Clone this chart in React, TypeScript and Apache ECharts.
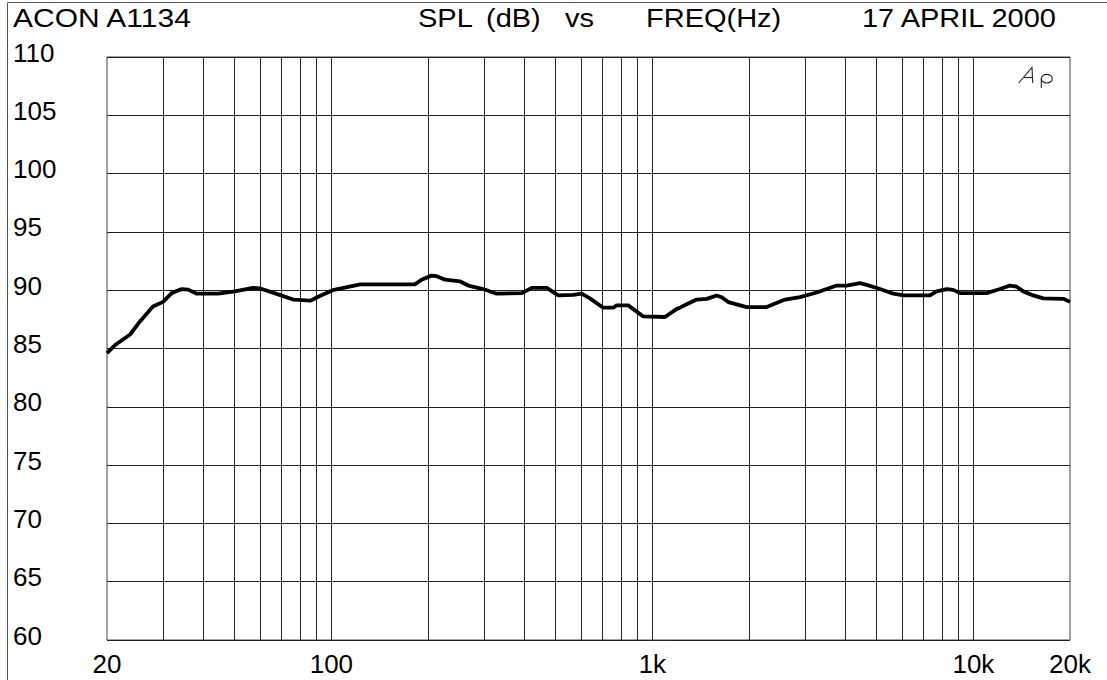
import React, { useEffect, useRef } from "react";
import * as echarts from "echarts";

const FREQ = [
  20, 21.2, 23.6, 25.3, 27.8, 29.9, 31.8, 34.2, 35.8, 38.1, 44.3, 50, 57, 60, 69, 76, 86, 92, 101,
  123, 152, 182, 191, 205, 213, 226, 252, 267, 297, 327, 392, 421, 469, 509, 567, 602, 639, 703,
  756, 774, 841, 937, 1095, 1191, 1219, 1279, 1374, 1477, 1586, 1644, 1724, 1967, 2271, 2590,
  2884, 3250, 3751, 4032, 4435, 4654, 5119, 5632, 6049, 7328, 7688, 8259, 8657, 9085, 11006,
  12104, 13005, 13646, 14307, 15372, 16514, 19060, 20000,
];
const SPL = [
  84.6, 85.3, 86.2, 87.3, 88.6, 89.0, 89.75, 90.1, 90.05, 89.7, 89.7, 89.9, 90.2, 90.15, 89.6, 89.2,
  89.1, 89.5, 90.0, 90.5, 90.5, 90.5, 90.9, 91.25, 91.2, 90.9, 90.75, 90.4, 90.1, 89.7, 89.75, 90.2,
  90.2, 89.55, 89.6, 89.7, 89.3, 88.5, 88.5, 88.7, 88.7, 87.75, 87.7, 88.4, 88.5, 88.8, 89.2, 89.26,
  89.55, 89.4, 88.98, 88.55, 88.55, 89.2, 89.4, 89.8, 90.4, 90.4, 90.6, 90.46, 90.1, 89.7, 89.55,
  89.55, 89.9, 90.1, 90.03, 89.75, 89.75, 90.1, 90.4, 90.3, 89.9, 89.55, 89.3, 89.26, 89.0,
];
const GRID_FREQS = [
  30, 40, 50, 60, 70, 80, 90, 100, 200, 300, 400, 500, 600, 700, 800, 900, 1000, 2000, 3000, 4000,
  5000, 6000, 7000, 8000, 9000, 10000,
];
const X_TICK_VALUES = [20, 100, 1000, 10000, 20000];
const X_TICK_LABELS = ["20", "100", "1k", "10k", "20k"];
const Y_MIN = 60;
const Y_MAX = 110;
const Y_STEP = 5;

const TITLE_PIECES = [
  { text: "ACON A1134", x: 13, sx: 1.2 },
  { text: "SPL", x: 418, sx: 1.16 },
  { text: "(dB)", x: 486, sx: 1.16 },
  { text: "vs", x: 565, sx: 1.16 },
  { text: "FREQ(Hz)", x: 646, sx: 1.16 },
  { text: "17 APRIL 2000", x: 862, sx: 1.16 },
];

const FONT = "'Liberation Sans', Arial, sans-serif";
const LOGO_STROKE = { stroke: "#222", lineWidth: 1.1, fill: "none" };

export default function App() {
  const ref = useRef<HTMLDivElement>(null);
  useEffect(() => {
    if (!ref.current) return;
    const chart = echarts.init(ref.current, undefined, { renderer: "svg" });
    const option: any = {
      animation: false,
      backgroundColor: "#ffffff",
      grid: {
        left: 107,
        right: 37,
        top: 57,
        bottom: 40,
        show: true,
        borderColor: "#444",
        borderWidth: 1,
      },
      xAxis: {
        type: "log",
        logBase: 10,
        min: 20,
        max: 20000,
        axisLine: { show: false },
        axisTick: { show: false },
        splitLine: { show: false },
        minorSplitLine: { show: false },
        axisLabel: {
          show: true,
          showMinLabel: true,
          showMaxLabel: true,
          fontFamily: FONT,
          fontSize: 26,
          color: "#000",
          margin: 11,
          formatter: (v: number) => {
            for (let i = 0; i < X_TICK_VALUES.length; i++) {
              if (Math.abs(v - X_TICK_VALUES[i]) / X_TICK_VALUES[i] < 0.01) return X_TICK_LABELS[i];
            }
            return "";
          },
        },
      },
      yAxis: {
        type: "value",
        min: Y_MIN,
        max: Y_MAX,
        interval: Y_STEP,
        axisLine: { show: false },
        axisTick: { show: false },
        splitLine: { show: true, lineStyle: { color: "#222", width: 1 } },
        axisLabel: {
          fontFamily: FONT,
          fontSize: 26,
          color: "#000",
          align: "left",
          verticalAlign: "bottom",
          lineHeight: 9,
          margin: 94,
        },
      },
      graphic: [
        {
          type: "rect",
          silent: true,
          shape: { x: 7.5, y: 2.5, width: 1400, height: 900 },
          style: { fill: "none", stroke: "#555", lineWidth: 1 },
        },
        ...TITLE_PIECES.map((p) => ({
          type: "text",
          x: p.x,
          y: 18,
          scaleX: p.sx,
          silent: true,
          style: {
            text: p.text,
            fontFamily: FONT,
            fontSize: 25,
            fill: "#000",
            align: "left",
            verticalAlign: "middle",
          },
        })),
        {
          type: "polyline",
          silent: true,
          shape: { points: [[1018.7, 83], [1032, 67.5], [1032.7, 83]] },
          style: LOGO_STROKE,
        },
        {
          type: "line",
          silent: true,
          shape: { x1: 1023.5, y1: 77.5, x2: 1032.5, y2: 77.5 },
          style: LOGO_STROKE,
        },
        {
          type: "ellipse",
          silent: true,
          shape: { cx: 1046.8, cy: 78.7, rx: 5.5, ry: 4.3 },
          style: LOGO_STROKE,
        },
        {
          type: "line",
          silent: true,
          shape: { x1: 1041.3, y1: 78.7, x2: 1041.3, y2: 88 },
          style: LOGO_STROKE,
        },
      ],
      series: [
        {
          type: "line",
          data: [],
          silent: true,
          z: 1,
          markLine: {
            silent: true,
            symbol: ["none", "none"],
            label: { show: false },
            lineStyle: { color: "#222", width: 1, type: "solid" },
            emphasis: { disabled: true },
            data: GRID_FREQS.map((f) => ({ xAxis: f })),
          },
        },
        {
          type: "line",
          data: FREQ.map((f, i) => [f, SPL[i]]),
          showSymbol: false,
          z: 5,
          lineStyle: { color: "#000", width: 3.8 },
          itemStyle: { color: "#000" },
        },
      ],
    };
    chart.setOption(option);
    return () => chart.dispose();
  }, []);
  return (
    <div
      ref={ref}
      style={{ position: "fixed", left: 0, top: 0, width: 1107, height: 680, background: "#fff" }}
    />
  );
}
